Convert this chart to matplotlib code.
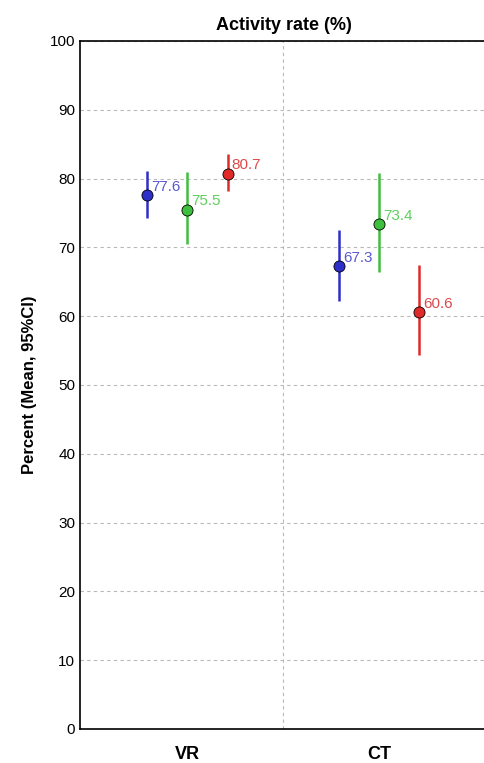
import numpy as np
import matplotlib.pyplot as plt

plt.rcParams['font.family'] = ['Liberation Sans', 'DejaVu Sans']

groups = ['VR', 'CT']
colors = ['#2e2ec8', '#3fbf3f', '#e02a2a']
label_colors = ['#5a5ad0', '#5fcf5f', '#dd4a4a']
offsets = [-0.21, 0.0, 0.21]

# three series per group: mean, lower CI, upper CI
means = [[77.6, 67.3], [75.5, 73.4], [80.7, 60.6]]
lower = [[74.3, 62.2], [70.5, 66.4], [78.2, 54.4]]
upper = [[81.1, 72.5], [81.0, 80.8], [83.6, 67.4]]

fig = plt.figure(figsize=(4.85, 7.63), dpi=100)
ax = fig.add_axes([0.165, 0.0446, 0.842, 0.9017])

x = np.array([0.5, 1.5])
for i in range(3):
    m = np.array(means[i])
    lo = np.array(lower[i])
    hi = np.array(upper[i])
    xs = x + offsets[i]
    ax.errorbar(xs, m, yerr=[m - lo, hi - m], fmt='none', ecolor=colors[i],
                elinewidth=1.8, capsize=0, zorder=3)
    ax.plot(xs, m, 'o', color=colors[i], markeredgecolor='black',
            markeredgewidth=0.6, markersize=8, zorder=4)
    for xi, mi in zip(xs, m):
        ax.annotate('%.1f' % mi, (xi, mi), xytext=(3, 6), textcoords='offset points',
                    color=label_colors[i], fontsize=11, va='center', ha='left', zorder=5)

ax.set_xlim(-0.06, 2.07)
ax.set_ylim(0, 100)
ax.set_yticks(np.arange(0, 101, 10))
ax.set_xticks(x)
ax.set_xticklabels(groups, fontsize=13, fontweight='bold')
ax.tick_params(axis='both', length=0, labelsize=11)
ax.tick_params(axis='x', pad=12, labelsize=13)
ax.grid(axis='y', linestyle=(0, (3, 3)), color='#b8b8b8', linewidth=0.8)
ax.axvline(1.0, linestyle=(0, (3, 3)), color='#b8b8b8', linewidth=0.8)
ax.set_axisbelow(True)
for s in ['left', 'top', 'bottom']:
    ax.spines[s].set_linewidth(1.2)
ax.spines['right'].set_visible(False)

ax.set_ylabel('Percent (Mean, 95%CI)', fontsize=12, fontweight='bold', labelpad=9)
ax.set_title('Activity rate (%)', fontsize=13, fontweight='bold', pad=8)

fig.savefig('out.png', dpi=100)
